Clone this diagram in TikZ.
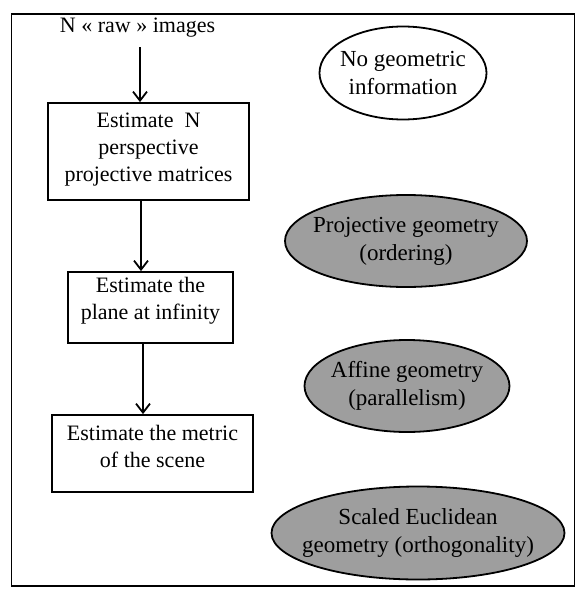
\documentclass[tikz,border=0pt]{standalone}
\usepackage{fontspec}
\setmainfont{Liberation Serif}
\usetikzlibrary{shapes.geometric,arrows.meta}
\begin{document}
\begin{tikzpicture}[x=1pt,y=-1pt,
  every node/.style={font=\fontsize{22}{27}\selectfont, align=center},
  stepbox/.style={draw, line width=1.8pt, inner sep=0pt},
  oval/.style={draw, ellipse, line width=1.8pt, inner sep=0pt},
  grayoval/.style={oval, fill=black!38},
  arr/.style={line width=1.8pt, -{Straight Barb[length=9pt,width=14pt,line width=1.8pt]}},
  txt/.style={inner sep=0pt},
  otxt/.style={inner sep=0pt, font=\fontsize{23}{28}\selectfont}
]
\useasboundingbox (0,0) rectangle (578,589);
\node[draw, line width=1.3pt, minimum width=563pt, minimum height=572pt, inner sep=0pt] (frame) at (293,300) {};

\node[txt] (raw) at (137.5,28) {N « raw » images};

\node[stepbox, minimum width=201pt, minimum height=97pt] (b1) at (148.5,151.5) {};
\node[txt] (t1) at (148.5,150) {Estimate~ N\\perspective\\projective matrices};

\node[stepbox, minimum width=165pt, minimum height=71pt] (b2) at (150.5,307.5) {};
\node[txt] (t2) at (150.5,300.5) {Estimate the\\plane at infinity};

\node[stepbox, minimum width=201pt, minimum height=77pt] (b3) at (152.5,453.5) {};
\node[txt] (t3) at (152.5,446.5) {Estimate the metric\\of the scene};

\coordinate (a0) at (140,47);
\draw[arr] (a0) -- (a0 |- b1.north);
\draw[arr] ([xshift=-7.5pt]b1.south) -- ([xshift=-7.5pt]b1.south |- b2.north);
\draw[arr] ([xshift=-7.5pt]b2.south) -- ([xshift=-7.5pt]b2.south |- b3.north);

\node[oval, minimum width=167pt, minimum height=93pt] (e1) at (403,73) {};
\node[otxt] (o1) at (e1) {No geometric\\information};
\node[grayoval, minimum width=242pt, minimum height=92pt] (e2) at (406,241) {};
\node[otxt] (o2) at (e2) {Projective geometry\\(ordering)};
\node[grayoval, minimum width=205pt, minimum height=92pt] (e3) at (407,386) {};
\node[otxt] (o3) at (e3) {Affine geometry\\(parallelism)};
\node[grayoval, minimum width=293pt, minimum height=93pt] (e4) at (418,533) {};
\node[otxt] (o4) at (e4) {Scaled Euclidean\\geometry (orthogonality)};
\end{tikzpicture}
\end{document}
